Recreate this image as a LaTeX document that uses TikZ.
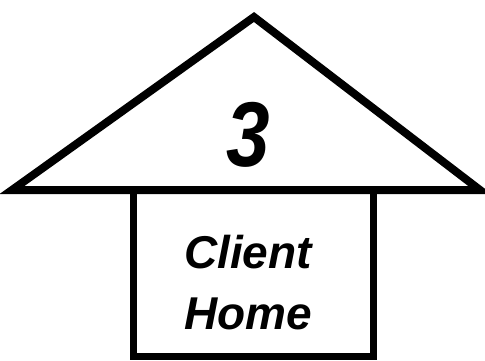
\documentclass[tikz,border=0pt]{standalone}
\usepackage{fontspec}
\setmainfont{Liberation Sans}
\usetikzlibrary{positioning}

\begin{document}
\begin{tikzpicture}[x=1pt,y=-1pt]
    \useasboundingbox (0,0) rectangle (485,360);
    \draw[line width=8pt, line join=miter] (12,190) -- (254,17) -- (480,190) -- cycle; % Roof
    \draw[line width=7pt] (133,190) -- (133,356) -- (373,356) -- (373,190); % Walls
    \node[font=\fontsize{92}{92}\selectfont\bfseries\itshape, xscale=0.85] (num) at (248,135) {3};
    \node[font=\fontsize{46}{61}\selectfont\bfseries\itshape, align=center] (label) at (248,283) {Client\\Home};
\end{tikzpicture}
\end{document}
